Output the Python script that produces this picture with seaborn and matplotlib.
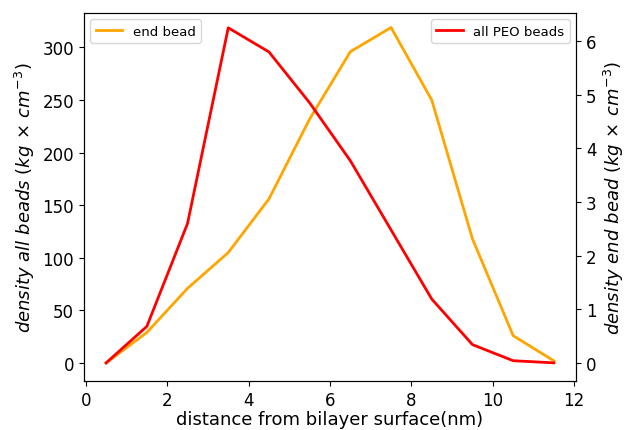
import numpy as np
import pandas as pd
import seaborn as sns
import matplotlib.pyplot as plt

# distance from bilayer surface (nm), bin centres
distance = [0.5, 1.5, 2.5, 3.5, 4.5, 5.5, 6.5, 7.5, 8.5, 9.5, 10.5, 11.5]

# end bead density, plotted on the left axis
end_bead = [0, 29, 71, 105, 156, 232, 296, 319, 250, 118, 26, 2]

# all PEO beads density, plotted on the right axis
all_peo = [0, 0.68, 2.6, 6.25, 5.8, 4.85, 3.77, 2.48, 1.19, 0.34, 0.04, 0.0]

df = pd.DataFrame({'distance': distance, 'end': end_bead, 'peo': all_peo})

fig = plt.figure(figsize=(6.25, 4.31), dpi=100)
ax1 = fig.add_axes([0.134, 0.114, 0.788, 0.854])
ax2 = ax1.twinx()

sns.lineplot(data=df, x='distance', y='end', ax=ax1, color='orange',
             linewidth=2, label='end bead')
sns.lineplot(data=df, x='distance', y='peo', ax=ax2, color='red',
             linewidth=2, label='all PEO beads')

ax1.set_xlim(-0.05, 12.05)
ax1.set_ylim(-17, 333)
ax2.set_ylim(-0.336, 6.53)
ax1.set_xticks([0, 2, 4, 6, 8, 10, 12])
ax1.set_yticks([0, 50, 100, 150, 200, 250, 300])
ax2.set_yticks([0, 1, 2, 3, 4, 5, 6])

ax1.set_xlabel('distance from bilayer surface(nm)', fontsize=13, labelpad=1)
ax1.set_ylabel(r'$density\ all\ beads\ (kg\,\times\,cm^{-3})$', fontsize=13)
ax2.set_ylabel(r'$density\ end\ bead\ (kg\,\times\,cm^{-3})$', fontsize=13)
ax1.tick_params(labelsize=12)
ax2.tick_params(labelsize=12)

ax1.legend(loc='upper left', fontsize=9.5)
ax2.legend(loc='upper right', fontsize=9.5)

fig.savefig('out.png', dpi=100)
